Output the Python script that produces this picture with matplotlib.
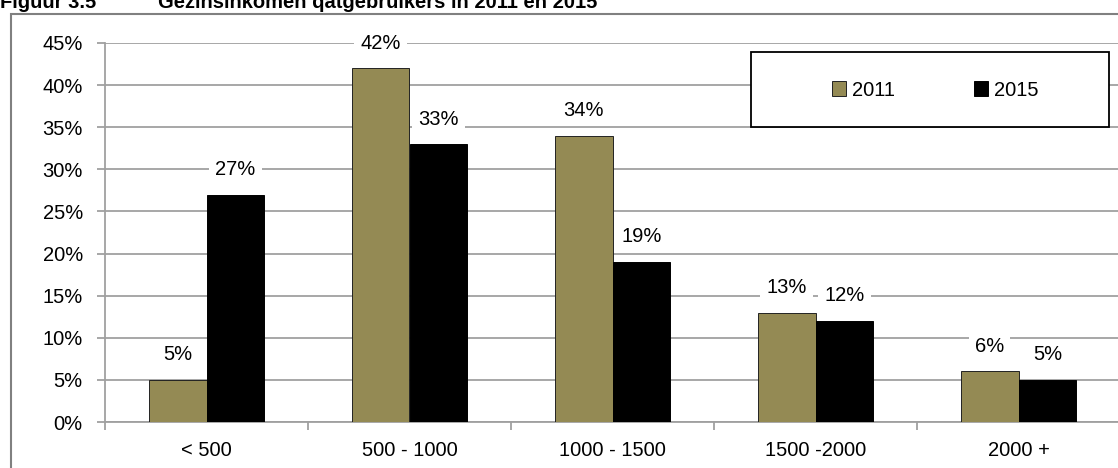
import numpy as np
import matplotlib.pyplot as plt
from matplotlib.patches import Rectangle

categories = ['< 500', '500 - 1000', '1000 - 1500', '1500 -2000', '2000 +']
vals_2011 = [5, 42, 34, 13, 6]
vals_2015 = [27, 33, 19, 12, 5]
yticks = [0, 5, 10, 15, 20, 25, 30, 35, 40, 45]

plt.rcParams['font.family'] = ['Liberation Sans', 'DejaVu Sans']
grey = '#a0a0a0'
fs = 14.5

fig = plt.figure(figsize=(11.18, 4.68), dpi=100)
ax = fig.add_axes([105 / 1118, 1 - 422 / 468, 1015 / 1118, 379 / 468])

# outer frame and (cut-off) title
fig.patches.append(Rectangle((11 / 1118, -0.1), 1.2, 1.1 - 14 / 468,
                             transform=fig.transFigure, fill=False,
                             edgecolor='#808080', linewidth=1.5))
fig.text(0.0, 1 - 8 / 468, 'Figuur 3.5', fontsize=fs, fontweight='bold', va='baseline')
fig.text(158 / 1118, 1 - 8 / 468, 'Gezinsinkomen qatgebruikers in 2011 en 2015',
         fontsize=fs, fontweight='bold', va='baseline')

x = np.arange(len(categories))
w = 0.285
b1 = ax.bar(x - w / 2, vals_2011, w, color='#948A54', edgecolor='#222222', linewidth=0.7,
            label='2011', zorder=3)
b2 = ax.bar(x + w / 2, vals_2015, w, color='black', edgecolor='black', linewidth=0.7,
            label='2015', zorder=3)

for bars, vals in ((b1, vals_2011), (b2, vals_2015)):
    for r, v in zip(bars, vals):
        ax.annotate(f'{v}%', (r.get_x() + r.get_width() / 2, v), xytext=(0, 18),
                    textcoords='offset points', ha='center', va='center', fontsize=fs,
                    bbox=dict(boxstyle='square,pad=0.3', fc='white', ec='none'), zorder=4)

ax.set_xlim(-0.5, 4.5)
ax.set_ylim(0, 45)
ax.set_yticks(yticks)
ax.set_yticklabels([f'{t}%' for t in yticks], fontsize=fs)
ax.yaxis.grid(True, color=grey, linewidth=1.3, zorder=0)
ax.set_xticks(x)
ax.set_xticklabels(categories, fontsize=fs)
ax.set_xticks(np.arange(-0.5, 4.6, 1), minor=True)
ax.tick_params(axis='x', which='major', length=0, pad=14)
ax.tick_params(axis='x', which='minor', length=5.5, color=grey, width=1.3)
ax.tick_params(axis='y', length=6, color=grey, width=1.3, pad=10)
for s in ('top', 'right'):
    ax.spines[s].set_visible(False)
for s in ('left', 'bottom'):
    ax.spines[s].set_color(grey)
    ax.spines[s].set_linewidth(1.3)

# legend box drawn separately so the entries can sit close together
ax.add_patch(Rectangle(((751 - 105) / 1015, (422 - 127) / 379), 358 / 1015, 75 / 379,
                       transform=ax.transAxes, facecolor='white', edgecolor='black',
                       linewidth=1.3, zorder=5, clip_on=False))
leg = ax.legend(loc='center', bbox_to_anchor=((935 - 105) / 1015, (422 - 90) / 379),
                ncol=2, frameon=False, fontsize=fs,
                handlelength=0.7, handleheight=0.7, handletextpad=0.3,
                columnspacing=3.9, borderaxespad=0, borderpad=0)
leg.set_zorder(6)

fig.savefig('out.png', dpi=100)
